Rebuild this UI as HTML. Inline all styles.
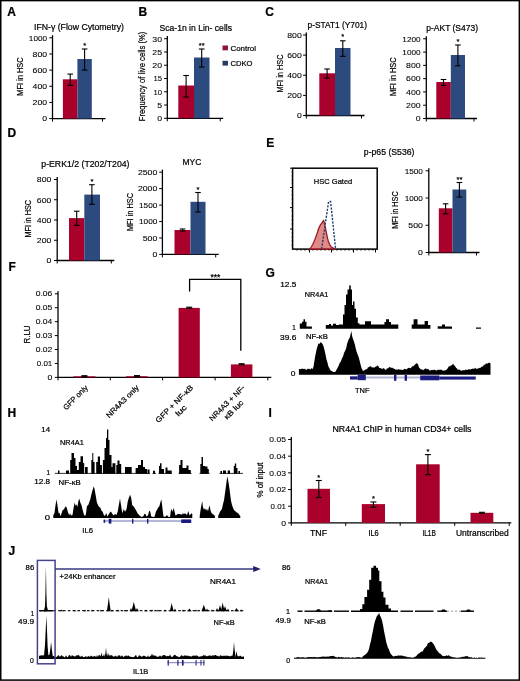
<!DOCTYPE html>
<html><head><meta charset="utf-8"><style>
html,body{margin:0;padding:0;background:#fff;}
svg{display:block;will-change:transform;}
text{font-family:"Liberation Sans", sans-serif;stroke:#000;stroke-width:0.22px;}
.t{stroke-width:0.08px;}
</style></head><body>
<svg width="520" height="681" viewBox="0 0 520 681" font-family='"Liberation Sans", sans-serif'>
<rect x="0" y="0" width="520" height="681" fill="#fff"/>
<text x="7.20" y="16.20" font-size="12" font-weight="bold">A</text>
<text x="138.60" y="15.60" font-size="12" font-weight="bold">B</text>
<text x="265.20" y="15.60" font-size="12" font-weight="bold">C</text>
<text x="7.40" y="137.20" font-size="12" font-weight="bold">D</text>
<text x="266.20" y="147.00" font-size="12" font-weight="bold">E</text>
<text x="8.60" y="270.60" font-size="12" font-weight="bold">F</text>
<text x="265.40" y="277.10" font-size="12" font-weight="bold">G</text>
<text x="7.40" y="417.00" font-size="12" font-weight="bold">H</text>
<text x="268.40" y="417.00" font-size="12" font-weight="bold">I</text>
<text x="8.40" y="554.60" font-size="12" font-weight="bold">J</text>
<text x="34.00" y="29.55" font-size="8.92" textLength="90.00" lengthAdjust="spacingAndGlyphs">IFN-γ (Flow Cytometry)</text>
<text font-size="9.74" text-anchor="middle" textLength="38.50" lengthAdjust="spacingAndGlyphs" transform="translate(22.60,76.55) rotate(-90)">MFI in HSC</text>
<line x1="52.50" y1="35.20" x2="52.50" y2="119.10" stroke="#000" stroke-width="1.3" />
<line x1="52.00" y1="118.60" x2="105.50" y2="118.60" stroke="#000" stroke-width="1.3" />
<line x1="49.30" y1="118.60" x2="52.50" y2="118.60" stroke="#000" stroke-width="1.0" />
<text x="47.10" y="121.35" font-size="7.54" class="t" text-anchor="end" textLength="4.85" lengthAdjust="spacingAndGlyphs">0</text>
<line x1="49.30" y1="102.44" x2="52.50" y2="102.44" stroke="#000" stroke-width="1.0" />
<text x="47.10" y="105.19" font-size="7.54" class="t" text-anchor="end" textLength="14.55" lengthAdjust="spacingAndGlyphs">200</text>
<line x1="49.30" y1="86.28" x2="52.50" y2="86.28" stroke="#000" stroke-width="1.0" />
<text x="47.10" y="89.03" font-size="7.54" class="t" text-anchor="end" textLength="14.55" lengthAdjust="spacingAndGlyphs">400</text>
<line x1="49.30" y1="70.12" x2="52.50" y2="70.12" stroke="#000" stroke-width="1.0" />
<text x="47.10" y="72.87" font-size="7.54" class="t" text-anchor="end" textLength="14.55" lengthAdjust="spacingAndGlyphs">600</text>
<line x1="49.30" y1="53.96" x2="52.50" y2="53.96" stroke="#000" stroke-width="1.0" />
<text x="47.10" y="56.71" font-size="7.54" class="t" text-anchor="end" textLength="14.55" lengthAdjust="spacingAndGlyphs">800</text>
<line x1="49.30" y1="37.80" x2="52.50" y2="37.80" stroke="#000" stroke-width="1.0" />
<text x="47.10" y="40.55" font-size="7.54" class="t" text-anchor="end" textLength="18.25" lengthAdjust="spacingAndGlyphs">1000</text>
<line x1="52.50" y1="118.60" x2="52.50" y2="121.60" stroke="#000" stroke-width="1.0" />
<line x1="102.50" y1="118.60" x2="102.50" y2="121.60" stroke="#000" stroke-width="1.0" />
<rect x="62.90" y="79.30" width="14.50" height="39.30" fill="#A9002C"/>
<rect x="77.40" y="59.00" width="14.40" height="59.60" fill="#2D4A7F"/>
<line x1="70.20" y1="74.10" x2="70.20" y2="85.40" stroke="#000" stroke-width="1.1" />
<line x1="67.40" y1="74.10" x2="73.00" y2="74.10" stroke="#000" stroke-width="1.1" />
<line x1="67.40" y1="85.40" x2="73.00" y2="85.40" stroke="#000" stroke-width="1.1" />
<line x1="84.60" y1="49.00" x2="84.60" y2="70.10" stroke="#000" stroke-width="1.1" />
<line x1="81.80" y1="49.00" x2="87.40" y2="49.00" stroke="#000" stroke-width="1.1" />
<line x1="81.80" y1="70.10" x2="87.40" y2="70.10" stroke="#000" stroke-width="1.1" />
<text x="84.60" y="47.90" font-size="7.5" text-anchor="middle">*</text>
<text x="159.50" y="30.75" font-size="8.92" textLength="72.50" lengthAdjust="spacingAndGlyphs">Sca-1n in Lin- cells</text>
<text font-size="9.6" text-anchor="middle" textLength="89.70" lengthAdjust="spacingAndGlyphs" transform="translate(145.30,76.45) rotate(-90)">Frequency of live cells (%)</text>
<line x1="167.30" y1="36.10" x2="167.30" y2="118.80" stroke="#000" stroke-width="1.3" />
<line x1="166.80" y1="118.30" x2="223.20" y2="118.30" stroke="#000" stroke-width="1.3" />
<line x1="164.10" y1="118.30" x2="167.30" y2="118.30" stroke="#000" stroke-width="1.0" />
<text x="162.00" y="121.20" font-size="7.96" class="t" text-anchor="end" textLength="4.85" lengthAdjust="spacingAndGlyphs">0</text>
<line x1="164.10" y1="105.03" x2="167.30" y2="105.03" stroke="#000" stroke-width="1.0" />
<text x="162.00" y="107.93" font-size="7.96" class="t" text-anchor="end" textLength="4.85" lengthAdjust="spacingAndGlyphs">5</text>
<line x1="164.10" y1="91.77" x2="167.30" y2="91.77" stroke="#000" stroke-width="1.0" />
<text x="162.00" y="94.67" font-size="7.96" class="t" text-anchor="end" textLength="8.55" lengthAdjust="spacingAndGlyphs">10</text>
<line x1="164.10" y1="78.50" x2="167.30" y2="78.50" stroke="#000" stroke-width="1.0" />
<text x="162.00" y="81.40" font-size="7.96" class="t" text-anchor="end" textLength="8.55" lengthAdjust="spacingAndGlyphs">15</text>
<line x1="164.10" y1="65.23" x2="167.30" y2="65.23" stroke="#000" stroke-width="1.0" />
<text x="162.00" y="68.13" font-size="7.96" class="t" text-anchor="end" textLength="9.70" lengthAdjust="spacingAndGlyphs">20</text>
<line x1="164.10" y1="51.97" x2="167.30" y2="51.97" stroke="#000" stroke-width="1.0" />
<text x="162.00" y="54.87" font-size="7.96" class="t" text-anchor="end" textLength="9.70" lengthAdjust="spacingAndGlyphs">25</text>
<line x1="164.10" y1="38.70" x2="167.30" y2="38.70" stroke="#000" stroke-width="1.0" />
<text x="162.00" y="41.60" font-size="7.96" class="t" text-anchor="end" textLength="9.70" lengthAdjust="spacingAndGlyphs">30</text>
<line x1="167.30" y1="118.30" x2="167.30" y2="121.30" stroke="#000" stroke-width="1.0" />
<line x1="220.20" y1="118.30" x2="220.20" y2="121.30" stroke="#000" stroke-width="1.0" />
<rect x="178.30" y="85.50" width="15.70" height="32.80" fill="#A9002C"/>
<rect x="194.00" y="57.50" width="15.50" height="60.80" fill="#2D4A7F"/>
<line x1="186.10" y1="75.50" x2="186.10" y2="97.00" stroke="#000" stroke-width="1.1" />
<line x1="183.30" y1="75.50" x2="188.90" y2="75.50" stroke="#000" stroke-width="1.1" />
<line x1="183.30" y1="97.00" x2="188.90" y2="97.00" stroke="#000" stroke-width="1.1" />
<line x1="201.70" y1="49.00" x2="201.70" y2="67.00" stroke="#000" stroke-width="1.1" />
<line x1="198.90" y1="49.00" x2="204.50" y2="49.00" stroke="#000" stroke-width="1.1" />
<line x1="198.90" y1="67.00" x2="204.50" y2="67.00" stroke="#000" stroke-width="1.1" />
<text x="201.70" y="47.70" font-size="7.5" text-anchor="middle">**</text>
<rect x="222.50" y="45.50" width="5.50" height="4.80" fill="#901332"/>
<text x="230.50" y="50.90" font-size="7.96" textLength="25.50" lengthAdjust="spacingAndGlyphs">Control</text>
<rect x="222.50" y="60.80" width="5.50" height="4.80" fill="#283C62"/>
<text x="230.50" y="66.10" font-size="7.96" textLength="22.00" lengthAdjust="spacingAndGlyphs">CDKO</text>
<text x="307.50" y="27.55" font-size="8.92" textLength="59.50" lengthAdjust="spacingAndGlyphs">p-STAT1 (Y701)</text>
<text font-size="9.74" text-anchor="middle" textLength="38.00" lengthAdjust="spacingAndGlyphs" transform="translate(283.10,73.50) rotate(-90)">MFI in HSC</text>
<line x1="306.30" y1="32.40" x2="306.30" y2="116.00" stroke="#000" stroke-width="1.3" />
<line x1="305.80" y1="115.50" x2="364.50" y2="115.50" stroke="#000" stroke-width="1.3" />
<line x1="303.10" y1="115.50" x2="306.30" y2="115.50" stroke="#000" stroke-width="1.0" />
<text x="301.80" y="118.25" font-size="7.54" class="t" text-anchor="end" textLength="4.85" lengthAdjust="spacingAndGlyphs">0</text>
<line x1="303.10" y1="95.38" x2="306.30" y2="95.38" stroke="#000" stroke-width="1.0" />
<text x="301.80" y="98.12" font-size="7.54" class="t" text-anchor="end" textLength="14.55" lengthAdjust="spacingAndGlyphs">200</text>
<line x1="303.10" y1="75.25" x2="306.30" y2="75.25" stroke="#000" stroke-width="1.0" />
<text x="301.80" y="78.00" font-size="7.54" class="t" text-anchor="end" textLength="14.55" lengthAdjust="spacingAndGlyphs">400</text>
<line x1="303.10" y1="55.12" x2="306.30" y2="55.12" stroke="#000" stroke-width="1.0" />
<text x="301.80" y="57.88" font-size="7.54" class="t" text-anchor="end" textLength="14.55" lengthAdjust="spacingAndGlyphs">600</text>
<line x1="303.10" y1="35.00" x2="306.30" y2="35.00" stroke="#000" stroke-width="1.0" />
<text x="301.80" y="37.75" font-size="7.54" class="t" text-anchor="end" textLength="14.55" lengthAdjust="spacingAndGlyphs">800</text>
<line x1="306.30" y1="115.50" x2="306.30" y2="118.50" stroke="#000" stroke-width="1.0" />
<line x1="361.50" y1="115.50" x2="361.50" y2="118.50" stroke="#000" stroke-width="1.0" />
<rect x="319.30" y="73.30" width="15.70" height="42.20" fill="#A9002C"/>
<rect x="335.00" y="48.00" width="15.50" height="67.50" fill="#2D4A7F"/>
<line x1="327.10" y1="69.00" x2="327.10" y2="78.00" stroke="#000" stroke-width="1.1" />
<line x1="324.30" y1="69.00" x2="329.90" y2="69.00" stroke="#000" stroke-width="1.1" />
<line x1="324.30" y1="78.00" x2="329.90" y2="78.00" stroke="#000" stroke-width="1.1" />
<line x1="342.80" y1="40.80" x2="342.80" y2="56.30" stroke="#000" stroke-width="1.1" />
<line x1="340.00" y1="40.80" x2="345.60" y2="40.80" stroke="#000" stroke-width="1.1" />
<line x1="340.00" y1="56.30" x2="345.60" y2="56.30" stroke="#000" stroke-width="1.1" />
<text x="342.80" y="39.20" font-size="7.5" text-anchor="middle">*</text>
<text x="426.30" y="30.75" font-size="8.92" textLength="51.70" lengthAdjust="spacingAndGlyphs">p-AKT (S473)</text>
<text font-size="9.74" text-anchor="middle" textLength="38.70" lengthAdjust="spacingAndGlyphs" transform="translate(396.15,76.65) rotate(-90)">MFI in HSC</text>
<line x1="426.30" y1="36.20" x2="426.30" y2="119.00" stroke="#000" stroke-width="1.3" />
<line x1="425.80" y1="118.50" x2="477.00" y2="118.50" stroke="#000" stroke-width="1.3" />
<line x1="423.10" y1="118.50" x2="426.30" y2="118.50" stroke="#000" stroke-width="1.0" />
<text x="420.60" y="121.20" font-size="7.41" class="t" text-anchor="end" textLength="4.85" lengthAdjust="spacingAndGlyphs">0</text>
<line x1="423.10" y1="105.22" x2="426.30" y2="105.22" stroke="#000" stroke-width="1.0" />
<text x="420.60" y="107.92" font-size="7.41" class="t" text-anchor="end" textLength="14.55" lengthAdjust="spacingAndGlyphs">200</text>
<line x1="423.10" y1="91.93" x2="426.30" y2="91.93" stroke="#000" stroke-width="1.0" />
<text x="420.60" y="94.63" font-size="7.41" class="t" text-anchor="end" textLength="14.55" lengthAdjust="spacingAndGlyphs">400</text>
<line x1="423.10" y1="78.65" x2="426.30" y2="78.65" stroke="#000" stroke-width="1.0" />
<text x="420.60" y="81.35" font-size="7.41" class="t" text-anchor="end" textLength="14.55" lengthAdjust="spacingAndGlyphs">600</text>
<line x1="423.10" y1="65.37" x2="426.30" y2="65.37" stroke="#000" stroke-width="1.0" />
<text x="420.60" y="68.07" font-size="7.41" class="t" text-anchor="end" textLength="14.55" lengthAdjust="spacingAndGlyphs">800</text>
<line x1="423.10" y1="52.08" x2="426.30" y2="52.08" stroke="#000" stroke-width="1.0" />
<text x="420.60" y="54.78" font-size="7.41" class="t" text-anchor="end" textLength="18.25" lengthAdjust="spacingAndGlyphs">1000</text>
<line x1="423.10" y1="38.80" x2="426.30" y2="38.80" stroke="#000" stroke-width="1.0" />
<text x="420.60" y="41.50" font-size="7.41" class="t" text-anchor="end" textLength="18.25" lengthAdjust="spacingAndGlyphs">1200</text>
<line x1="426.30" y1="118.50" x2="426.30" y2="121.50" stroke="#000" stroke-width="1.0" />
<line x1="474.00" y1="118.50" x2="474.00" y2="121.50" stroke="#000" stroke-width="1.0" />
<rect x="436.30" y="82.00" width="14.50" height="36.50" fill="#A9002C"/>
<rect x="450.80" y="55.00" width="14.20" height="63.50" fill="#2D4A7F"/>
<line x1="443.50" y1="79.50" x2="443.50" y2="85.50" stroke="#000" stroke-width="1.1" />
<line x1="440.70" y1="79.50" x2="446.30" y2="79.50" stroke="#000" stroke-width="1.1" />
<line x1="440.70" y1="85.50" x2="446.30" y2="85.50" stroke="#000" stroke-width="1.1" />
<line x1="457.90" y1="45.00" x2="457.90" y2="65.80" stroke="#000" stroke-width="1.1" />
<line x1="455.10" y1="45.00" x2="460.70" y2="45.00" stroke="#000" stroke-width="1.1" />
<line x1="455.10" y1="65.80" x2="460.70" y2="65.80" stroke="#000" stroke-width="1.1" />
<text x="457.90" y="44.20" font-size="7.5" text-anchor="middle">*</text>
<text x="41.30" y="167.05" font-size="8.92" textLength="88.20" lengthAdjust="spacingAndGlyphs">p-ERK1/2 (T202/T204)</text>
<text font-size="9.74" text-anchor="middle" textLength="37.50" lengthAdjust="spacingAndGlyphs" transform="translate(30.80,218.75) rotate(-90)">MFI in HSC</text>
<line x1="57.20" y1="176.90" x2="57.20" y2="261.00" stroke="#000" stroke-width="1.3" />
<line x1="56.70" y1="260.50" x2="114.30" y2="260.50" stroke="#000" stroke-width="1.3" />
<line x1="54.00" y1="260.50" x2="57.20" y2="260.50" stroke="#000" stroke-width="1.0" />
<text x="51.40" y="263.25" font-size="7.54" class="t" text-anchor="end" textLength="4.85" lengthAdjust="spacingAndGlyphs">0</text>
<line x1="54.00" y1="240.25" x2="57.20" y2="240.25" stroke="#000" stroke-width="1.0" />
<text x="51.40" y="243.00" font-size="7.54" class="t" text-anchor="end" textLength="14.55" lengthAdjust="spacingAndGlyphs">200</text>
<line x1="54.00" y1="220.00" x2="57.20" y2="220.00" stroke="#000" stroke-width="1.0" />
<text x="51.40" y="222.75" font-size="7.54" class="t" text-anchor="end" textLength="14.55" lengthAdjust="spacingAndGlyphs">400</text>
<line x1="54.00" y1="199.75" x2="57.20" y2="199.75" stroke="#000" stroke-width="1.0" />
<text x="51.40" y="202.50" font-size="7.54" class="t" text-anchor="end" textLength="14.55" lengthAdjust="spacingAndGlyphs">600</text>
<line x1="54.00" y1="179.50" x2="57.20" y2="179.50" stroke="#000" stroke-width="1.0" />
<text x="51.40" y="182.25" font-size="7.54" class="t" text-anchor="end" textLength="14.55" lengthAdjust="spacingAndGlyphs">800</text>
<line x1="57.20" y1="260.50" x2="57.20" y2="263.50" stroke="#000" stroke-width="1.0" />
<line x1="111.30" y1="260.50" x2="111.30" y2="263.50" stroke="#000" stroke-width="1.0" />
<rect x="69.00" y="218.10" width="15.30" height="42.40" fill="#A9002C"/>
<rect x="84.30" y="194.60" width="15.70" height="65.90" fill="#2D4A7F"/>
<line x1="76.70" y1="211.20" x2="76.70" y2="225.40" stroke="#000" stroke-width="1.1" />
<line x1="73.90" y1="211.20" x2="79.50" y2="211.20" stroke="#000" stroke-width="1.1" />
<line x1="73.90" y1="225.40" x2="79.50" y2="225.40" stroke="#000" stroke-width="1.1" />
<line x1="91.90" y1="184.70" x2="91.90" y2="204.30" stroke="#000" stroke-width="1.1" />
<line x1="89.10" y1="184.70" x2="94.70" y2="184.70" stroke="#000" stroke-width="1.1" />
<line x1="89.10" y1="204.30" x2="94.70" y2="204.30" stroke="#000" stroke-width="1.1" />
<text x="91.90" y="183.60" font-size="7.5" text-anchor="middle">*</text>
<text x="182.50" y="165.25" font-size="8.92" textLength="18.80" lengthAdjust="spacingAndGlyphs">MYC</text>
<text font-size="9.74" text-anchor="middle" textLength="38.20" lengthAdjust="spacingAndGlyphs" transform="translate(133.30,212.00) rotate(-90)">MFI in HSC</text>
<line x1="162.40" y1="169.60" x2="162.40" y2="254.90" stroke="#000" stroke-width="1.3" />
<line x1="161.90" y1="254.40" x2="218.70" y2="254.40" stroke="#000" stroke-width="1.3" />
<line x1="159.20" y1="254.40" x2="162.40" y2="254.40" stroke="#000" stroke-width="1.0" />
<text x="157.30" y="257.15" font-size="7.54" class="t" text-anchor="end" textLength="4.85" lengthAdjust="spacingAndGlyphs">0</text>
<line x1="159.20" y1="237.96" x2="162.40" y2="237.96" stroke="#000" stroke-width="1.0" />
<text x="157.30" y="240.71" font-size="7.54" class="t" text-anchor="end" textLength="14.55" lengthAdjust="spacingAndGlyphs">500</text>
<line x1="159.20" y1="221.52" x2="162.40" y2="221.52" stroke="#000" stroke-width="1.0" />
<text x="157.30" y="224.27" font-size="7.54" class="t" text-anchor="end" textLength="18.25" lengthAdjust="spacingAndGlyphs">1000</text>
<line x1="159.20" y1="205.08" x2="162.40" y2="205.08" stroke="#000" stroke-width="1.0" />
<text x="157.30" y="207.83" font-size="7.54" class="t" text-anchor="end" textLength="18.25" lengthAdjust="spacingAndGlyphs">1500</text>
<line x1="159.20" y1="188.64" x2="162.40" y2="188.64" stroke="#000" stroke-width="1.0" />
<text x="157.30" y="191.39" font-size="7.54" class="t" text-anchor="end" textLength="19.40" lengthAdjust="spacingAndGlyphs">2000</text>
<line x1="159.20" y1="172.20" x2="162.40" y2="172.20" stroke="#000" stroke-width="1.0" />
<text x="157.30" y="174.95" font-size="7.54" class="t" text-anchor="end" textLength="19.40" lengthAdjust="spacingAndGlyphs">2500</text>
<line x1="162.40" y1="254.40" x2="162.40" y2="257.40" stroke="#000" stroke-width="1.0" />
<line x1="215.70" y1="254.40" x2="215.70" y2="257.40" stroke="#000" stroke-width="1.0" />
<rect x="174.50" y="230.00" width="16.00" height="24.40" fill="#A9002C"/>
<rect x="190.50" y="201.80" width="15.00" height="52.60" fill="#2D4A7F"/>
<line x1="182.50" y1="229.00" x2="182.50" y2="231.00" stroke="#000" stroke-width="1.1" />
<line x1="179.70" y1="229.00" x2="185.30" y2="229.00" stroke="#000" stroke-width="1.1" />
<line x1="179.70" y1="231.00" x2="185.30" y2="231.00" stroke="#000" stroke-width="1.1" />
<line x1="198.00" y1="192.50" x2="198.00" y2="212.00" stroke="#000" stroke-width="1.1" />
<line x1="195.20" y1="192.50" x2="200.80" y2="192.50" stroke="#000" stroke-width="1.1" />
<line x1="195.20" y1="212.00" x2="200.80" y2="212.00" stroke="#000" stroke-width="1.1" />
<text x="198.00" y="192.00" font-size="7.5" text-anchor="middle">*</text>
<text x="363.80" y="155.05" font-size="8.92" textLength="50.70" lengthAdjust="spacingAndGlyphs">p-p65 (S536)</text>
<rect x="292.6" y="168.2" width="84.6" height="80.9" fill="none" stroke="#000" stroke-width="1.5"/>
<line x1="290.00" y1="168.20" x2="292.60" y2="168.20" stroke="#000" stroke-width="1.0" />
<line x1="290.00" y1="187.50" x2="292.60" y2="187.50" stroke="#000" stroke-width="1.0" />
<line x1="290.00" y1="207.60" x2="292.60" y2="207.60" stroke="#000" stroke-width="1.0" />
<line x1="290.00" y1="229.00" x2="292.60" y2="229.00" stroke="#000" stroke-width="1.0" />
<line x1="291.50" y1="172.00" x2="292.60" y2="172.00" stroke="#000" stroke-width="0.7" />
<line x1="291.50" y1="176.00" x2="292.60" y2="176.00" stroke="#000" stroke-width="0.7" />
<line x1="291.50" y1="180.00" x2="292.60" y2="180.00" stroke="#000" stroke-width="0.7" />
<line x1="291.50" y1="183.00" x2="292.60" y2="183.00" stroke="#000" stroke-width="0.7" />
<line x1="291.50" y1="191.00" x2="292.60" y2="191.00" stroke="#000" stroke-width="0.7" />
<line x1="291.50" y1="195.00" x2="292.60" y2="195.00" stroke="#000" stroke-width="0.7" />
<line x1="291.50" y1="199.00" x2="292.60" y2="199.00" stroke="#000" stroke-width="0.7" />
<line x1="291.50" y1="203.00" x2="292.60" y2="203.00" stroke="#000" stroke-width="0.7" />
<line x1="291.50" y1="211.00" x2="292.60" y2="211.00" stroke="#000" stroke-width="0.7" />
<line x1="291.50" y1="216.00" x2="292.60" y2="216.00" stroke="#000" stroke-width="0.7" />
<line x1="291.50" y1="220.00" x2="292.60" y2="220.00" stroke="#000" stroke-width="0.7" />
<line x1="291.50" y1="224.00" x2="292.60" y2="224.00" stroke="#000" stroke-width="0.7" />
<line x1="291.50" y1="233.00" x2="292.60" y2="233.00" stroke="#000" stroke-width="0.7" />
<line x1="291.50" y1="237.00" x2="292.60" y2="237.00" stroke="#000" stroke-width="0.7" />
<line x1="291.50" y1="241.00" x2="292.60" y2="241.00" stroke="#000" stroke-width="0.7" />
<line x1="291.50" y1="245.00" x2="292.60" y2="245.00" stroke="#000" stroke-width="0.7" />
<line x1="297.00" y1="249.10" x2="297.00" y2="250.80" stroke="#000" stroke-width="0.7" />
<line x1="301.00" y1="249.10" x2="301.00" y2="250.80" stroke="#000" stroke-width="0.7" />
<line x1="305.00" y1="249.10" x2="305.00" y2="250.80" stroke="#000" stroke-width="0.7" />
<line x1="309.00" y1="249.10" x2="309.00" y2="250.80" stroke="#000" stroke-width="0.7" />
<line x1="313.00" y1="249.10" x2="313.00" y2="250.80" stroke="#000" stroke-width="0.7" />
<line x1="317.00" y1="249.10" x2="317.00" y2="250.80" stroke="#000" stroke-width="0.7" />
<line x1="321.00" y1="249.10" x2="321.00" y2="250.80" stroke="#000" stroke-width="0.7" />
<line x1="325.00" y1="249.10" x2="325.00" y2="250.80" stroke="#000" stroke-width="0.7" />
<line x1="329.00" y1="249.10" x2="329.00" y2="250.80" stroke="#000" stroke-width="0.7" />
<line x1="333.00" y1="249.10" x2="333.00" y2="250.80" stroke="#000" stroke-width="0.7" />
<line x1="337.00" y1="249.10" x2="337.00" y2="250.80" stroke="#000" stroke-width="0.7" />
<line x1="341.00" y1="249.10" x2="341.00" y2="250.80" stroke="#000" stroke-width="0.7" />
<line x1="345.00" y1="249.10" x2="345.00" y2="250.80" stroke="#000" stroke-width="0.7" />
<line x1="349.00" y1="249.10" x2="349.00" y2="250.80" stroke="#000" stroke-width="0.7" />
<line x1="353.00" y1="249.10" x2="353.00" y2="250.80" stroke="#000" stroke-width="0.7" />
<line x1="357.00" y1="249.10" x2="357.00" y2="250.80" stroke="#000" stroke-width="0.7" />
<line x1="361.00" y1="249.10" x2="361.00" y2="250.80" stroke="#000" stroke-width="0.7" />
<line x1="365.00" y1="249.10" x2="365.00" y2="250.80" stroke="#000" stroke-width="0.7" />
<line x1="369.00" y1="249.10" x2="369.00" y2="250.80" stroke="#000" stroke-width="0.7" />
<line x1="373.00" y1="249.10" x2="373.00" y2="250.80" stroke="#000" stroke-width="0.7" />
<line x1="309.50" y1="249.10" x2="309.50" y2="252.50" stroke="#000" stroke-width="1.0" />
<line x1="331.50" y1="249.10" x2="331.50" y2="252.50" stroke="#000" stroke-width="1.0" />
<line x1="353.50" y1="249.10" x2="353.50" y2="252.50" stroke="#000" stroke-width="1.0" />
<line x1="375.50" y1="249.10" x2="375.50" y2="252.50" stroke="#000" stroke-width="1.0" />
<text x="313.80" y="184.05" font-size="7.82" textLength="38.50" lengthAdjust="spacingAndGlyphs">HSC Gated</text>
<path d="M309.7,249 C313,246 315.5,238 317.6,232 C319,227 320,225 321.5,223.5 C322.5,222.5 323,221 323.6,220.5 C324.3,222 324.8,225 325.5,228.5 C326.5,233 327.3,238 328.2,240.8 C329.5,244.5 330.5,246.5 331.7,247.4 C333,248.3 334,248.6 335.2,249 Z" fill="#E08987" stroke="#9A1A26" stroke-width="1.3"/>
<path d="M321.6,249 L328.6,201.5 L330.6,201.5 L335.6,249" fill="none" stroke="#223F6E" stroke-width="1.4" stroke-dasharray="2.2 1.3"/>
<text font-size="9.74" text-anchor="middle" textLength="37.50" lengthAdjust="spacingAndGlyphs" transform="translate(398.30,210.05) rotate(-90)">MFI in HSC</text>
<line x1="428.80" y1="168.20" x2="428.80" y2="253.00" stroke="#000" stroke-width="1.3" />
<line x1="428.30" y1="252.50" x2="479.50" y2="252.50" stroke="#000" stroke-width="1.3" />
<line x1="425.60" y1="252.50" x2="428.80" y2="252.50" stroke="#000" stroke-width="1.0" />
<text x="422.90" y="255.25" font-size="7.54" class="t" text-anchor="end" textLength="4.85" lengthAdjust="spacingAndGlyphs">0</text>
<line x1="425.60" y1="225.27" x2="428.80" y2="225.27" stroke="#000" stroke-width="1.0" />
<text x="422.90" y="228.02" font-size="7.54" class="t" text-anchor="end" textLength="14.55" lengthAdjust="spacingAndGlyphs">500</text>
<line x1="425.60" y1="198.03" x2="428.80" y2="198.03" stroke="#000" stroke-width="1.0" />
<text x="422.90" y="200.78" font-size="7.54" class="t" text-anchor="end" textLength="18.25" lengthAdjust="spacingAndGlyphs">1000</text>
<line x1="425.60" y1="170.80" x2="428.80" y2="170.80" stroke="#000" stroke-width="1.0" />
<text x="422.90" y="173.55" font-size="7.54" class="t" text-anchor="end" textLength="18.25" lengthAdjust="spacingAndGlyphs">1500</text>
<line x1="428.80" y1="252.50" x2="428.80" y2="255.50" stroke="#000" stroke-width="1.0" />
<line x1="476.50" y1="252.50" x2="476.50" y2="255.50" stroke="#000" stroke-width="1.0" />
<rect x="438.80" y="208.30" width="13.70" height="44.20" fill="#A9002C"/>
<rect x="452.50" y="189.50" width="13.80" height="63.00" fill="#2D4A7F"/>
<line x1="445.60" y1="203.80" x2="445.60" y2="213.80" stroke="#000" stroke-width="1.1" />
<line x1="442.80" y1="203.80" x2="448.40" y2="203.80" stroke="#000" stroke-width="1.1" />
<line x1="442.80" y1="213.80" x2="448.40" y2="213.80" stroke="#000" stroke-width="1.1" />
<line x1="459.40" y1="182.50" x2="459.40" y2="197.00" stroke="#000" stroke-width="1.1" />
<line x1="456.60" y1="182.50" x2="462.20" y2="182.50" stroke="#000" stroke-width="1.1" />
<line x1="456.60" y1="197.00" x2="462.20" y2="197.00" stroke="#000" stroke-width="1.1" />
<text x="459.40" y="181.50" font-size="7.5" text-anchor="middle">**</text>
<text font-size="9.33" text-anchor="middle" textLength="18.00" lengthAdjust="spacingAndGlyphs" transform="translate(30.40,334.50) rotate(-90)">R.LU</text>
<line x1="58.00" y1="291.20" x2="58.00" y2="377.90" stroke="#000" stroke-width="1.3" />
<line x1="57.50" y1="377.40" x2="271.30" y2="377.40" stroke="#000" stroke-width="1.3" />
<line x1="54.80" y1="377.40" x2="58.00" y2="377.40" stroke="#000" stroke-width="1.0" />
<text x="52.30" y="380.00" font-size="7.13" class="t" text-anchor="end" textLength="4.85" lengthAdjust="spacingAndGlyphs">0</text>
<line x1="54.80" y1="363.47" x2="58.00" y2="363.47" stroke="#000" stroke-width="1.0" />
<text x="52.30" y="366.07" font-size="7.13" class="t" text-anchor="end" textLength="15.50" lengthAdjust="spacingAndGlyphs">0.01</text>
<line x1="54.80" y1="349.53" x2="58.00" y2="349.53" stroke="#000" stroke-width="1.0" />
<text x="52.30" y="352.13" font-size="7.13" class="t" text-anchor="end" textLength="16.65" lengthAdjust="spacingAndGlyphs">0.02</text>
<line x1="54.80" y1="335.60" x2="58.00" y2="335.60" stroke="#000" stroke-width="1.0" />
<text x="52.30" y="338.20" font-size="7.13" class="t" text-anchor="end" textLength="16.65" lengthAdjust="spacingAndGlyphs">0.03</text>
<line x1="54.80" y1="321.67" x2="58.00" y2="321.67" stroke="#000" stroke-width="1.0" />
<text x="52.30" y="324.27" font-size="7.13" class="t" text-anchor="end" textLength="16.65" lengthAdjust="spacingAndGlyphs">0.04</text>
<line x1="54.80" y1="307.73" x2="58.00" y2="307.73" stroke="#000" stroke-width="1.0" />
<text x="52.30" y="310.33" font-size="7.13" class="t" text-anchor="end" textLength="16.65" lengthAdjust="spacingAndGlyphs">0.05</text>
<line x1="54.80" y1="293.80" x2="58.00" y2="293.80" stroke="#000" stroke-width="1.0" />
<text x="52.30" y="296.40" font-size="7.13" class="t" text-anchor="end" textLength="16.65" lengthAdjust="spacingAndGlyphs">0.06</text>
<line x1="58.00" y1="377.40" x2="58.00" y2="380.40" stroke="#000" stroke-width="1.0" />
<line x1="110.30" y1="377.40" x2="110.30" y2="380.40" stroke="#000" stroke-width="1.0" />
<line x1="162.60" y1="377.40" x2="162.60" y2="380.40" stroke="#000" stroke-width="1.0" />
<line x1="215.10" y1="377.40" x2="215.10" y2="380.40" stroke="#000" stroke-width="1.0" />
<line x1="267.80" y1="377.40" x2="267.80" y2="380.40" stroke="#000" stroke-width="1.0" />
<rect x="73.30" y="376.30" width="22.20" height="1.10" fill="#A9002C"/>
<rect x="126.20" y="376.20" width="21.50" height="1.20" fill="#A9002C"/>
<rect x="178.60" y="307.90" width="21.20" height="69.50" fill="#A9002C"/>
<rect x="230.90" y="364.40" width="21.50" height="13.00" fill="#A9002C"/>
<line x1="84.40" y1="375.70" x2="84.40" y2="376.70" stroke="#000" stroke-width="1.1" />
<line x1="81.40" y1="375.70" x2="87.40" y2="375.70" stroke="#000" stroke-width="1.1" />
<line x1="81.40" y1="376.70" x2="87.40" y2="376.70" stroke="#000" stroke-width="1.1" />
<line x1="137.00" y1="375.60" x2="137.00" y2="376.60" stroke="#000" stroke-width="1.1" />
<line x1="134.00" y1="375.60" x2="140.00" y2="375.60" stroke="#000" stroke-width="1.1" />
<line x1="134.00" y1="376.60" x2="140.00" y2="376.60" stroke="#000" stroke-width="1.1" />
<line x1="189.20" y1="307.20" x2="189.20" y2="308.20" stroke="#000" stroke-width="1.1" />
<line x1="186.20" y1="307.20" x2="192.20" y2="307.20" stroke="#000" stroke-width="1.1" />
<line x1="186.20" y1="308.20" x2="192.20" y2="308.20" stroke="#000" stroke-width="1.1" />
<line x1="241.60" y1="363.70" x2="241.60" y2="364.80" stroke="#000" stroke-width="1.1" />
<line x1="238.60" y1="363.70" x2="244.60" y2="363.70" stroke="#000" stroke-width="1.1" />
<line x1="238.60" y1="364.80" x2="244.60" y2="364.80" stroke="#000" stroke-width="1.1" />
<path d="M189.6,291.4 V279.4 H240.8 V350.7" fill="none" stroke="#000" stroke-width="1.3"/>
<text x="215.40" y="279.60" font-size="8.5" text-anchor="middle">***</text>
<g transform="translate(88.40,388.20) rotate(-45)"><text x="0" y="0" font-size="7.6" text-anchor="end" textLength="31.50" lengthAdjust="spacingAndGlyphs">GFP only</text></g>
<g transform="translate(139.40,388.20) rotate(-45)"><text x="0" y="0" font-size="7.6" text-anchor="end" textLength="42.80" lengthAdjust="spacingAndGlyphs">NR4A3 only</text></g>
<g transform="translate(193.60,388.20) rotate(-45)"><text x="0" y="0" font-size="7.6" text-anchor="end" textLength="49.50" lengthAdjust="spacingAndGlyphs">GFP + NF-κB</text><text x="-24.75" y="9.50" font-size="7.6" text-anchor="middle" textLength="12.50" lengthAdjust="spacingAndGlyphs">luc</text></g>
<g transform="translate(245.40,388.20) rotate(-45)"><text x="0" y="0" font-size="7.6" text-anchor="end" textLength="47.00" lengthAdjust="spacingAndGlyphs">NR4A3 + NF-</text><text x="-23.50" y="9.50" font-size="7.6" text-anchor="middle" textLength="24.00" lengthAdjust="spacingAndGlyphs">κB luc</text></g>
<text x="296.30" y="287.05" font-size="7.54" text-anchor="end" textLength="16.10" lengthAdjust="spacingAndGlyphs">12.5</text>
<text x="304.80" y="297.45" font-size="7.27" textLength="23.50" lengthAdjust="spacingAndGlyphs">NR4A1</text>
<text x="295.80" y="329.95" font-size="7.27" text-anchor="end" textLength="3.50" lengthAdjust="spacingAndGlyphs">1</text>
<text x="296.30" y="339.60" font-size="7.68" text-anchor="end" textLength="16.30" lengthAdjust="spacingAndGlyphs">39.6</text>
<text x="305.90" y="338.80" font-size="7.41" textLength="21.90" lengthAdjust="spacingAndGlyphs">NF-κB</text>
<text x="295.50" y="376.10" font-size="7.41" text-anchor="end" textLength="4.70" lengthAdjust="spacingAndGlyphs">0</text>
<path d="M299.80,328.70H302.00V323.60H299.80ZM302.00,328.70H303.50V321.80H302.00ZM303.50,328.70H305.00V319.30H303.50ZM305.00,328.70H306.50V321.80H305.00ZM306.50,328.70H311.90V326.40H306.50ZM325.80,328.70H329.00V325.00H325.80ZM329.00,328.70H331.00V324.00H329.00ZM331.00,328.70H333.00V325.50H331.00ZM333.00,328.70H336.00V323.80H333.00ZM336.00,328.70H339.00V325.00H336.00ZM339.00,328.70H343.00V324.50H339.00ZM343.00,328.70H344.50V314.60H343.00ZM344.50,328.70H346.00V305.00H344.50ZM346.00,328.70H347.50V294.40H346.00ZM347.50,328.70H349.20V289.60H347.50ZM349.20,328.70H350.80V285.40H349.20ZM350.80,328.70H352.00V289.60H350.80ZM352.00,328.70H353.00V305.00H352.00ZM353.00,328.70H354.50V301.50H353.00ZM354.50,328.70H356.00V308.80H354.50ZM356.00,328.70H357.80V317.50H356.00ZM357.80,328.70H359.40V323.30H357.80ZM359.40,328.70H365.00V324.50H359.40ZM365.00,328.70H371.00V321.30H365.00ZM371.00,328.70H384.40V324.60H371.00ZM384.40,328.70H386.00V322.00H384.40ZM386.00,328.70H389.00V319.30H386.00ZM389.00,328.70H391.00V322.00H389.00ZM391.00,328.70H398.30V324.60H391.00ZM411.70,328.70H413.60V324.60H411.70ZM413.60,328.70H417.50V319.30H413.60ZM417.50,328.70H424.60V324.60H417.50ZM424.60,328.70H428.00V321.00H424.60ZM428.00,328.70H430.40V325.00H428.00ZM437.70,328.70H442.00V326.30H437.70ZM442.00,328.70H445.00V324.60H442.00ZM445.00,328.70H452.00V326.50H445.00ZM476.00,328.70H481.00V327.60H476.00Z" fill="#000"/>
<path d="M298.90,374.80 L298.90,368.93 L299.93,368.92 L300.97,369.27 L302.00,368.45 L302.80,368.71 L303.60,369.02 L304.40,368.66 L305.20,369.32 L306.00,369.68 L306.80,369.81 L307.60,368.74 L308.40,368.93 L309.20,368.53 L310.00,369.44 L310.83,369.11 L311.67,368.01 L312.50,369.19 L313.50,366.72 L315.00,357.29 L316.50,349.74 L317.50,346.26 L318.50,343.42 L319.60,343.81 L320.70,342.01 L321.60,343.06 L322.50,343.93 L323.50,346.24 L324.50,349.92 L325.50,354.38 L326.50,359.62 L327.50,362.78 L328.50,366.71 L329.33,368.00 L330.17,369.72 L331.00,370.95 L332.00,370.97 L333.00,372.12 L333.83,372.12 L334.67,371.93 L335.50,371.76 L336.50,369.75 L337.50,368.11 L338.60,365.82 L339.70,363.09 L340.85,361.61 L342.00,358.32 L343.00,356.56 L344.00,353.07 L345.50,349.97 L346.30,347.65 L347.10,343.69 L348.50,339.83 L349.90,337.29 L351.30,330.92 L352.40,337.16 L353.50,340.36 L355.00,345.07 L355.80,348.87 L356.60,351.77 L358.20,356.06 L359.00,358.35 L359.80,361.41 L361.40,367.70 L362.20,369.61 L363.00,371.02 L364.00,370.61 L365.00,369.84 L366.00,369.20 L367.00,369.22 L368.00,367.33 L369.00,367.14 L370.00,366.22 L371.00,366.33 L372.00,367.65 L373.00,367.00 L374.00,368.01 L375.00,366.73 L376.00,366.68 L377.00,365.86 L378.00,365.44 L379.00,367.51 L380.00,368.25 L381.00,368.02 L382.00,369.35 L383.00,368.14 L384.00,368.15 L385.00,369.55 L386.00,369.99 L387.00,368.23 L388.00,368.52 L389.00,367.13 L390.00,366.94 L391.00,367.95 L392.00,367.55 L393.00,368.26 L394.00,368.71 L395.00,368.99 L396.00,369.91 L396.80,369.35 L397.60,369.74 L398.40,369.32 L399.20,369.34 L400.00,369.94 L401.00,369.44 L402.00,369.74 L403.00,370.30 L404.00,369.03 L405.00,368.65 L406.00,369.38 L407.00,369.09 L408.00,368.11 L409.00,367.85 L410.00,368.15 L411.00,367.96 L412.00,366.34 L413.00,366.60 L414.00,365.61 L415.10,364.42 L416.20,363.37 L417.10,363.61 L418.00,364.26 L419.00,367.60 L420.00,368.43 L421.00,369.42 L422.00,369.13 L423.00,370.24 L424.00,369.60 L425.00,368.84 L426.00,368.34 L426.80,369.41 L427.60,368.80 L428.40,369.33 L429.20,370.08 L430.00,370.77 L431.00,370.29 L432.00,369.67 L433.00,370.37 L434.00,369.74 L435.00,369.83 L436.00,370.50 L436.80,370.53 L437.60,369.82 L438.40,369.77 L439.20,369.82 L440.00,369.90 L440.80,369.40 L441.60,369.81 L442.40,370.62 L443.20,370.84 L444.00,370.51 L445.00,370.39 L446.00,370.08 L447.00,369.31 L448.00,367.63 L449.00,366.07 L450.00,366.54 L451.00,365.32 L452.00,365.35 L453.00,363.42 L454.00,365.32 L455.00,365.97 L456.00,367.74 L457.00,368.54 L458.00,369.99 L459.00,369.22 L460.00,370.36 L460.80,370.52 L461.60,370.64 L462.40,370.32 L463.20,370.18 L464.00,370.20 L464.80,370.27 L465.60,369.40 L466.40,369.76 L467.20,369.95 L468.00,369.82 L468.80,369.08 L469.60,369.51 L470.40,369.51 L471.20,369.00 L472.00,368.98 L472.80,368.53 L473.60,368.72 L474.40,368.66 L475.20,367.80 L476.00,368.50 L476.80,368.91 L477.60,368.65 L478.40,368.33 L479.20,367.74 L480.00,368.15 L481.00,367.32 L482.00,366.51 L483.00,366.53 L484.00,364.59 L485.00,364.90 L486.00,363.23 L487.00,363.67 L488.00,363.22 L489.00,362.55 L490.50,363.50 L490.50,374.80 Z" fill="#000"/>
<line x1="350.00" y1="377.60" x2="475.70" y2="377.60" stroke="#B4B4D4" stroke-width="2.0" />
<rect x="350.00" y="376.40" width="7.70" height="3.20" fill="#1C1C80"/>
<rect x="357.70" y="374.80" width="8.10" height="5.40" fill="#1C1C80"/>
<rect x="394.00" y="374.80" width="2.40" height="6.00" fill="#1C1C80"/>
<rect x="404.60" y="374.80" width="2.40" height="6.00" fill="#1C1C80"/>
<rect x="420.20" y="375.50" width="19.20" height="4.80" fill="#1C1C80"/>
<rect x="439.40" y="376.60" width="36.30" height="3.00" fill="#1C1C80"/>
<text x="355.00" y="392.90" font-size="7.96" textLength="14.50" lengthAdjust="spacingAndGlyphs">TNF</text>
<text x="50.00" y="431.50" font-size="7.41" text-anchor="end" textLength="8.70" lengthAdjust="spacingAndGlyphs">14</text>
<text x="60.00" y="445.20" font-size="7.41" textLength="23.80" lengthAdjust="spacingAndGlyphs">NR4A1</text>
<text x="50.00" y="475.00" font-size="7.41" text-anchor="end" textLength="3.50" lengthAdjust="spacingAndGlyphs">1</text>
<text x="50.10" y="483.70" font-size="7.41" text-anchor="end" textLength="15.90" lengthAdjust="spacingAndGlyphs">12.8</text>
<text x="58.60" y="485.10" font-size="7.41" textLength="22.20" lengthAdjust="spacingAndGlyphs">NF-κB</text>
<text x="50.10" y="520.00" font-size="7.41" text-anchor="end" textLength="5.30" lengthAdjust="spacingAndGlyphs">0</text>
<line x1="54.80" y1="473.40" x2="150.00" y2="473.40" stroke="#000" stroke-width="0.8" />
<line x1="152.50" y1="473.40" x2="156.00" y2="473.40" stroke="#000" stroke-width="0.8" />
<line x1="158.50" y1="473.40" x2="172.00" y2="473.40" stroke="#000" stroke-width="0.8" />
<line x1="178.50" y1="473.40" x2="191.50" y2="473.40" stroke="#000" stroke-width="0.8" />
<line x1="199.50" y1="473.40" x2="209.50" y2="473.40" stroke="#000" stroke-width="0.8" />
<line x1="219.50" y1="473.40" x2="243.00" y2="473.40" stroke="#000" stroke-width="0.8" />
<path d="M58.00,473.80H59.50V470.40H58.00ZM66.00,473.80H69.00V470.50H66.00ZM70.20,473.80H71.50V460.00H70.20ZM71.50,473.80H74.00V453.00H71.50ZM74.00,473.80H75.50V458.00H74.00ZM75.50,473.80H77.00V466.00H75.50ZM77.00,473.80H78.80V470.00H77.00ZM78.80,473.80H80.50V462.00H78.80ZM80.50,473.80H83.00V456.20H80.50ZM83.00,473.80H84.20V463.00H83.00ZM85.00,473.80H87.70V467.10H85.00ZM91.30,473.80H92.30V460.00H91.30ZM92.30,473.80H93.30V453.00H92.30ZM93.30,473.80H94.60V462.00H93.30ZM96.20,473.80H97.80V462.00H96.20ZM97.80,473.80H100.00V456.50H97.80ZM100.00,473.80H101.90V465.00H100.00ZM102.90,473.80H104.50V460.00H102.90ZM104.50,473.80H106.00V448.00H104.50ZM106.00,473.80H107.00V438.00H106.00ZM107.00,473.80H108.30V429.60H107.00ZM108.30,473.80H109.50V440.00H108.30ZM109.50,473.80H111.50V455.00H109.50ZM111.50,473.80H112.50V467.00H111.50ZM112.50,473.80H115.40V463.30H112.50ZM116.30,473.80H117.50V465.00H116.30ZM117.50,473.80H119.50V460.40H117.50ZM119.50,473.80H121.20V464.00H119.50ZM125.00,473.80H131.70V467.10H125.00ZM135.60,473.80H138.00V468.00H135.60ZM138.00,473.80H140.00V465.00H138.00ZM140.00,473.80H141.00V465.00H140.00ZM141.00,473.80H143.00V460.10H141.00ZM143.00,473.80H145.00V467.00H143.00ZM145.00,473.80H147.00V469.00H145.00ZM147.50,473.80H149.50V469.60H147.50ZM153.00,473.80H155.00V470.70H153.00ZM159.00,473.80H160.00V466.00H159.00ZM160.00,473.80H161.50V463.30H160.00ZM161.50,473.80H164.00V469.00H161.50ZM165.50,473.80H167.50V467.50H165.50ZM167.50,473.80H171.70V470.50H167.50ZM179.10,473.80H180.50V465.00H179.10ZM180.50,473.80H182.50V460.10H180.50ZM182.50,473.80H186.50V468.00H182.50ZM186.50,473.80H188.50V465.40H186.50ZM188.50,473.80H190.80V470.00H188.50ZM200.30,473.80H201.50V464.00H200.30ZM201.50,473.80H203.00V456.90H201.50ZM203.00,473.80H205.00V466.00H203.00ZM205.00,473.80H207.50V466.40H205.00ZM207.50,473.80H208.80V469.00H207.50ZM220.40,473.80H222.00V471.00H220.40ZM223.00,473.80H226.00V470.40H223.00ZM227.70,473.80H230.00V470.40H227.70ZM233.80,473.80H234.80V466.00H233.80ZM234.80,473.80H236.20V463.50H234.80ZM236.20,473.80H237.50V468.00H236.20ZM238.50,473.80H240.00V471.00H238.50Z" fill="#000"/>
<path d="M53.30,518.00 L53.30,515.29 L54.50,513.00 L55.50,505.23 L56.50,499.46 L57.50,505.51 L58.50,513.04 L59.50,512.68 L60.50,516.24 L61.50,513.54 L62.60,510.22 L64.00,509.26 L65.40,506.52 L66.60,507.29 L68.00,512.17 L69.20,515.16 L70.00,513.27 L71.00,515.59 L72.50,514.90 L73.50,508.58 L74.60,502.40 L75.40,505.77 L76.20,504.36 L77.50,506.66 L78.30,501.60 L79.20,498.38 L80.30,502.49 L81.50,505.29 L82.60,509.64 L83.80,514.13 L85.00,516.13 L86.00,513.66 L86.90,506.25 L88.50,504.50 L89.40,501.82 L90.30,499.36 L91.30,494.79 L92.30,491.12 L93.80,486.18 L94.60,489.13 L95.40,493.84 L96.90,502.55 L98.00,504.90 L99.20,506.89 L100.30,507.62 L101.50,510.67 L102.70,511.75 L103.80,514.91 L105.00,516.10 L106.20,512.69 L107.30,516.39 L108.50,514.83 L109.80,512.41 L110.80,511.42 L112.00,513.27 L113.50,515.48 L115.00,514.11 L116.50,515.00 L117.80,511.24 L118.80,505.26 L120.00,498.38 L121.00,505.26 L122.30,513.25 L123.80,509.08 L125.00,511.80 L126.50,509.34 L127.80,501.35 L128.80,497.94 L130.10,494.73 L131.20,497.89 L132.20,504.94 L133.70,506.62 L135.00,508.41 L135.90,510.10 L136.80,511.74 L137.65,513.47 L138.50,514.33 L140.00,515.96 L141.20,516.83 L142.50,516.87 L143.50,515.91 L144.50,513.65 L145.50,513.88 L146.50,516.58 L148.00,515.32 L149.20,510.87 L149.90,510.92 L150.60,513.20 L151.20,516.55 L152.50,516.85 L154.00,516.89 L154.60,516.51 L156.00,511.52 L157.30,509.14 L158.30,507.18 L159.30,506.50 L160.40,502.37 L161.30,499.31 L162.40,507.62 L163.40,516.19 L165.00,517.07 L166.50,515.61 L167.40,515.58 L168.50,517.12 L170.10,516.65 L170.80,511.06 L171.40,508.85 L172.40,511.70 L173.20,509.76 L173.70,507.69 L174.60,511.75 L175.50,515.44 L176.50,514.91 L177.50,514.08 L179.00,514.02 L180.00,514.28 L181.00,514.32 L182.00,514.77 L183.00,512.92 L183.87,514.20 L184.73,513.36 L185.60,513.75 L187.00,514.93 L188.30,510.99 L189.60,515.53 L190.80,514.03 L191.60,513.36 L192.30,514.00 L192.30,518.00 Z" fill="#000"/>
<path d="M199.70,518.00 L199.70,516.28 L200.50,510.21 L201.50,504.57 L202.20,500.99 L203.00,507.54 L204.00,509.54 L205.00,508.18 L206.00,510.53 L207.00,508.76 L208.00,511.24 L209.00,507.17 L209.70,505.53 L210.50,510.38 L211.50,513.06 L212.50,513.82 L214.00,514.89 L214.90,516.00 L214.90,518.00 Z" fill="#000"/>
<path d="M218.20,518.00 L218.20,515.39 L219.10,513.98 L220.00,511.62 L221.00,510.48 L222.00,508.68 L223.00,504.04 L224.00,500.13 L225.50,489.41 L226.50,482.08 L227.40,476.21 L228.50,482.23 L229.50,489.07 L231.00,500.81 L232.00,505.03 L233.00,507.85 L234.00,509.92 L235.00,511.08 L236.00,511.74 L237.00,512.74 L238.00,512.98 L239.00,514.54 L240.30,516.00 L240.30,518.00 Z" fill="#000"/>
<line x1="103.60" y1="521.00" x2="191.20" y2="521.00" stroke="#6A6AB4" stroke-width="1.0" />
<rect x="103.60" y="519.60" width="1.60" height="3.20" fill="#1C1C80"/>
<rect x="108.70" y="518.80" width="2.70" height="4.80" fill="#1C1C80"/>
<rect x="132.00" y="518.80" width="1.40" height="4.80" fill="#1C1C80"/>
<rect x="147.00" y="518.80" width="1.40" height="4.80" fill="#1C1C80"/>
<rect x="181.20" y="519.40" width="10.00" height="3.60" fill="#1C1C80"/>
<text x="82.30" y="533.20" font-size="7.96" textLength="10.70" lengthAdjust="spacingAndGlyphs">IL6</text>
<text x="332.50" y="431.70" font-size="8.23" textLength="139.00" lengthAdjust="spacingAndGlyphs">NR4A1 ChIP in human CD34+ cells</text>
<text font-size="8.78" text-anchor="middle" textLength="35.00" lengthAdjust="spacingAndGlyphs" transform="translate(262.70,480.00) rotate(-90)">% of input</text>
<line x1="291.30" y1="436.90" x2="291.30" y2="523.40" stroke="#000" stroke-width="1.3" />
<line x1="290.80" y1="522.90" x2="511.30" y2="522.90" stroke="#000" stroke-width="1.3" />
<line x1="288.10" y1="522.90" x2="291.30" y2="522.90" stroke="#000" stroke-width="1.0" />
<text x="286.00" y="525.85" font-size="8.09" class="t" text-anchor="end" textLength="4.85" lengthAdjust="spacingAndGlyphs">0</text>
<line x1="288.10" y1="506.22" x2="291.30" y2="506.22" stroke="#000" stroke-width="1.0" />
<text x="286.00" y="509.17" font-size="8.09" class="t" text-anchor="end" textLength="15.50" lengthAdjust="spacingAndGlyphs">0.01</text>
<line x1="288.10" y1="489.54" x2="291.30" y2="489.54" stroke="#000" stroke-width="1.0" />
<text x="286.00" y="492.49" font-size="8.09" class="t" text-anchor="end" textLength="16.65" lengthAdjust="spacingAndGlyphs">0.02</text>
<line x1="288.10" y1="472.86" x2="291.30" y2="472.86" stroke="#000" stroke-width="1.0" />
<text x="286.00" y="475.81" font-size="8.09" class="t" text-anchor="end" textLength="16.65" lengthAdjust="spacingAndGlyphs">0.03</text>
<line x1="288.10" y1="456.18" x2="291.30" y2="456.18" stroke="#000" stroke-width="1.0" />
<text x="286.00" y="459.13" font-size="8.09" class="t" text-anchor="end" textLength="16.65" lengthAdjust="spacingAndGlyphs">0.04</text>
<line x1="288.10" y1="439.50" x2="291.30" y2="439.50" stroke="#000" stroke-width="1.0" />
<text x="286.00" y="442.45" font-size="8.09" class="t" text-anchor="end" textLength="16.65" lengthAdjust="spacingAndGlyphs">0.05</text>
<line x1="291.30" y1="522.90" x2="291.30" y2="525.90" stroke="#000" stroke-width="1.0" />
<line x1="345.70" y1="522.90" x2="345.70" y2="525.90" stroke="#000" stroke-width="1.0" />
<line x1="400.20" y1="522.90" x2="400.20" y2="525.90" stroke="#000" stroke-width="1.0" />
<line x1="454.70" y1="522.90" x2="454.70" y2="525.90" stroke="#000" stroke-width="1.0" />
<line x1="509.20" y1="522.90" x2="509.20" y2="525.90" stroke="#000" stroke-width="1.0" />
<rect x="307.50" y="488.80" width="22.50" height="34.10" fill="#A9002C"/>
<rect x="361.80" y="504.10" width="23.20" height="18.80" fill="#A9002C"/>
<rect x="416.10" y="464.30" width="23.60" height="58.60" fill="#A9002C"/>
<rect x="470.50" y="512.80" width="22.80" height="10.10" fill="#A9002C"/>
<line x1="318.80" y1="480.50" x2="318.80" y2="497.50" stroke="#000" stroke-width="1.1" />
<line x1="315.80" y1="480.50" x2="321.80" y2="480.50" stroke="#000" stroke-width="1.1" />
<line x1="315.80" y1="497.50" x2="321.80" y2="497.50" stroke="#000" stroke-width="1.1" />
<line x1="373.40" y1="502.00" x2="373.40" y2="507.20" stroke="#000" stroke-width="1.1" />
<line x1="370.40" y1="502.00" x2="376.40" y2="502.00" stroke="#000" stroke-width="1.1" />
<line x1="370.40" y1="507.20" x2="376.40" y2="507.20" stroke="#000" stroke-width="1.1" />
<line x1="427.90" y1="454.60" x2="427.90" y2="474.70" stroke="#000" stroke-width="1.1" />
<line x1="424.90" y1="454.60" x2="430.90" y2="454.60" stroke="#000" stroke-width="1.1" />
<line x1="424.90" y1="474.70" x2="430.90" y2="474.70" stroke="#000" stroke-width="1.1" />
<line x1="481.90" y1="512.30" x2="481.90" y2="513.30" stroke="#000" stroke-width="1.1" />
<line x1="478.90" y1="512.30" x2="484.90" y2="512.30" stroke="#000" stroke-width="1.1" />
<line x1="478.90" y1="513.30" x2="484.90" y2="513.30" stroke="#000" stroke-width="1.1" />
<text x="318.80" y="479.50" font-size="7.5" text-anchor="middle">*</text>
<text x="373.40" y="501.10" font-size="7.5" text-anchor="middle">*</text>
<text x="427.90" y="454.40" font-size="7.5" text-anchor="middle">*</text>
<text x="310.00" y="536.20" font-size="8.23" textLength="17.00" lengthAdjust="spacingAndGlyphs">TNF</text>
<text x="368.40" y="536.20" font-size="8.23" textLength="10.40" lengthAdjust="spacingAndGlyphs">IL6</text>
<text x="422.40" y="536.20" font-size="8.23" textLength="13.50" lengthAdjust="spacingAndGlyphs">IL1B</text>
<text x="456.00" y="536.20" font-size="8.23" textLength="52.60" lengthAdjust="spacingAndGlyphs">Untranscribed</text>
<text x="34.20" y="569.90" font-size="7.41" text-anchor="end" textLength="8.60" lengthAdjust="spacingAndGlyphs">86</text>
<text x="59.50" y="578.95" font-size="7.54" textLength="56.00" lengthAdjust="spacingAndGlyphs">+24Kb enhancer</text>
<text x="210.00" y="583.70" font-size="7.41" textLength="26.00" lengthAdjust="spacingAndGlyphs">NR4A1</text>
<text x="34.20" y="615.50" font-size="7.41" text-anchor="end" textLength="3.40" lengthAdjust="spacingAndGlyphs">1</text>
<text x="34.20" y="623.55" font-size="7.54" text-anchor="end" textLength="16.10" lengthAdjust="spacingAndGlyphs">49.9</text>
<text x="213.50" y="624.70" font-size="7.41" textLength="21.10" lengthAdjust="spacingAndGlyphs">NF-κB</text>
<text x="33.80" y="662.70" font-size="7.41" text-anchor="end" textLength="3.80" lengthAdjust="spacingAndGlyphs">0</text>
<line x1="39.00" y1="610.70" x2="244.20" y2="610.70" stroke="#1a1a1a" stroke-width="1.2" stroke-dasharray="2.6 2.2"/>
<line x1="39.50" y1="610.70" x2="53.50" y2="610.70" stroke="#000" stroke-width="1.4" />
<path d="M43.80,611.30 L43.80,611.00 L45.00,606.50 L45.40,594.00 L45.90,565.50 L46.40,594.00 L46.90,606.50 L48.20,611.00 L48.20,611.30 Z" fill="#000"/>
<path d="M59.78,611.30 L59.78,611.30 L61.10,610.13 L61.70,609.50 L62.30,610.13 L63.62,611.30 L63.62,611.30 Z" fill="#000"/>
<path d="M73.40,611.30 L73.40,611.30 L74.50,610.45 L75.00,610.00 L75.50,610.45 L76.60,611.30 L76.60,611.30 Z" fill="#000"/>
<path d="M83.40,611.30 L83.40,611.30 L84.50,610.32 L85.00,609.80 L85.50,610.32 L86.60,611.30 L86.60,611.30 Z" fill="#000"/>
<path d="M90.72,611.30 L90.72,611.30 L91.60,610.32 L92.00,609.80 L92.40,610.32 L93.28,611.30 L93.28,611.30 Z" fill="#000"/>
<path d="M99.40,611.30 L99.40,611.30 L100.50,610.13 L101.00,609.50 L101.50,610.13 L102.60,611.30 L102.60,611.30 Z" fill="#000"/>
<path d="M106.88,611.30 L106.88,611.30 L108.20,602.00 L108.80,597.00 L109.40,602.00 L110.72,611.30 L110.72,611.30 Z" fill="#000"/>
<path d="M110.40,611.30 L110.40,611.30 L111.50,610.32 L112.00,609.80 L112.50,610.32 L113.60,611.30 L113.60,611.30 Z" fill="#000"/>
<path d="M116.08,611.30 L116.08,611.30 L117.40,610.13 L118.00,609.50 L118.60,610.13 L119.92,611.30 L119.92,611.30 Z" fill="#000"/>
<path d="M123.40,611.30 L123.40,611.30 L124.50,610.32 L125.00,609.80 L125.50,610.32 L126.60,611.30 L126.60,611.30 Z" fill="#000"/>
<path d="M129.40,611.30 L129.40,611.30 L130.50,609.15 L131.00,608.00 L131.50,609.15 L132.60,611.30 L132.60,611.30 Z" fill="#000"/>
<path d="M131.40,611.30 L131.40,611.30 L133.05,605.06 L133.80,601.70 L134.55,605.06 L136.20,611.30 L136.20,611.30 Z" fill="#000"/>
<path d="M135.08,611.30 L135.08,611.30 L136.40,609.15 L137.00,608.00 L137.60,609.15 L138.92,611.30 L138.92,611.30 Z" fill="#000"/>
<path d="M144.08,611.30 L144.08,611.30 L145.40,610.13 L146.00,609.50 L146.60,610.13 L147.92,611.30 L147.92,611.30 Z" fill="#000"/>
<path d="M150.40,611.30 L150.40,611.30 L151.50,610.13 L152.00,609.50 L152.50,610.13 L153.60,611.30 L153.60,611.30 Z" fill="#000"/>
<path d="M156.40,611.30 L156.40,611.30 L157.50,610.20 L158.00,609.60 L158.50,610.20 L159.60,611.30 L159.60,611.30 Z" fill="#000"/>
<path d="M163.40,611.30 L163.40,611.30 L164.50,610.20 L165.00,609.60 L165.50,610.20 L166.60,611.30 L166.60,611.30 Z" fill="#000"/>
<path d="M169.78,611.30 L169.78,611.30 L171.10,605.71 L171.70,602.70 L172.30,605.71 L173.62,611.30 L173.62,611.30 Z" fill="#000"/>
<path d="M173.40,611.30 L173.40,611.30 L174.50,609.48 L175.00,608.50 L175.50,609.48 L176.60,611.30 L176.60,611.30 Z" fill="#000"/>
<path d="M181.40,611.30 L181.40,611.30 L182.50,610.13 L183.00,609.50 L183.50,610.13 L184.60,611.30 L184.60,611.30 Z" fill="#000"/>
<path d="M187.00,611.30 L187.00,611.30 L188.65,609.48 L189.40,608.50 L190.15,609.48 L191.80,611.30 L191.80,611.30 Z" fill="#000"/>
<path d="M194.40,611.30 L194.40,611.30 L195.50,610.13 L196.00,609.50 L196.50,610.13 L197.60,611.30 L197.60,611.30 Z" fill="#000"/>
<path d="M201.40,611.30 L201.40,611.30 L203.05,606.95 L203.80,604.60 L204.55,606.95 L206.20,611.30 L206.20,611.30 Z" fill="#000"/>
<path d="M205.40,611.30 L205.40,611.30 L206.50,609.48 L207.00,608.50 L207.50,609.48 L208.60,611.30 L208.60,611.30 Z" fill="#000"/>
<path d="M210.40,611.30 L210.40,611.30 L211.50,610.13 L212.00,609.50 L212.50,610.13 L213.60,611.30 L213.60,611.30 Z" fill="#000"/>
<path d="M215.40,611.30 L215.40,611.30 L216.50,609.15 L217.00,608.00 L217.50,609.15 L218.60,611.30 L218.60,611.30 Z" fill="#000"/>
<path d="M218.08,611.30 L218.08,611.30 L219.40,607.20 L220.00,605.00 L220.60,607.20 L221.92,611.30 L221.92,611.30 Z" fill="#000"/>
<path d="M220.78,611.30 L220.78,611.30 L222.10,605.45 L222.70,602.30 L223.30,605.45 L224.62,611.30 L224.62,611.30 Z" fill="#000"/>
<path d="M223.08,611.30 L223.08,611.30 L224.40,607.86 L225.00,606.00 L225.60,607.86 L226.92,611.30 L226.92,611.30 Z" fill="#000"/>
<path d="M226.40,611.30 L226.40,611.30 L227.50,609.48 L228.00,608.50 L228.50,609.48 L229.60,611.30 L229.60,611.30 Z" fill="#000"/>
<path d="M234.10,611.30 L234.10,611.30 L235.75,609.15 L236.50,608.00 L237.25,609.15 L238.90,611.30 L238.90,611.30 Z" fill="#000"/>
<path d="M239.40,611.30 L239.40,611.30 L240.50,610.13 L241.00,609.50 L241.50,610.13 L242.60,611.30 L242.60,611.30 Z" fill="#000"/>
<path d="M39.00,658.90 L39.00,655.91 L40.00,655.62 L41.00,655.49 L42.00,655.14 L43.00,655.62 L44.00,655.19 L45.00,657.33 L46.00,656.28 L47.00,655.14 L48.00,655.84 L49.00,655.24 L50.00,657.13 L51.00,656.27 L52.00,656.81 L53.00,656.09 L54.00,656.02 L55.00,657.37 L56.00,656.88 L57.00,656.73 L58.00,655.20 L59.00,655.56 L60.00,657.02 L61.00,655.49 L62.00,657.07 L63.00,655.92 L64.00,657.10 L65.00,657.40 L66.00,655.31 L67.00,656.90 L68.00,656.88 L69.00,655.04 L70.00,655.31 L71.00,656.71 L72.00,655.09 L73.00,656.11 L74.00,655.77 L75.00,656.91 L76.00,655.14 L77.00,655.74 L78.00,655.08 L79.00,655.26 L80.00,656.68 L81.00,656.53 L82.00,657.00 L83.00,657.05 L84.00,657.24 L85.00,656.68 L86.00,655.95 L87.00,657.39 L88.00,655.77 L89.00,656.59 L90.00,656.66 L91.00,655.44 L92.00,656.25 L93.00,656.64 L94.00,656.25 L95.00,655.71 L96.00,657.26 L97.00,655.06 L98.00,657.35 L99.00,655.60 L100.00,655.37 L101.00,657.36 L102.00,655.51 L103.00,656.52 L104.00,656.01 L105.00,657.38 L106.00,657.29 L107.00,656.97 L108.00,655.11 L109.00,656.93 L110.00,655.59 L111.00,655.17 L112.00,655.14 L113.00,656.57 L114.00,656.55 L115.00,656.14 L116.00,655.54 L117.00,657.14 L118.00,655.60 L119.00,655.49 L120.00,655.34 L121.00,657.31 L122.00,655.13 L123.00,657.18 L124.00,656.58 L125.00,655.93 L126.00,655.20 L127.00,656.58 L128.00,655.18 L129.00,656.09 L130.00,656.65 L131.00,656.64 L132.00,656.97 L133.00,657.21 L134.00,657.04 L135.00,655.75 L136.00,655.01 L137.00,657.01 L138.00,657.28 L139.00,655.03 L140.00,656.12 L141.00,656.43 L142.00,656.83 L143.00,655.97 L144.00,655.42 L145.00,656.31 L146.00,656.39 L147.00,657.27 L148.00,655.20 L149.00,657.32 L150.00,656.22 L151.00,655.39 L152.00,657.09 L153.00,655.64 L154.00,655.12 L155.00,655.89 L156.00,655.51 L157.00,657.14 L158.00,656.36 L159.00,657.04 L160.00,655.37 L161.00,656.69 L162.00,656.31 L163.00,655.00 L164.00,655.35 L165.00,655.06 L166.00,656.31 L167.00,656.23 L168.00,655.65 L169.00,656.25 L170.00,656.70 L171.00,656.43 L172.00,657.05 L173.00,656.50 L174.00,655.03 L175.00,655.10 L176.00,655.90 L177.00,656.20 L178.00,656.59 L179.00,657.19 L180.00,656.75 L181.00,655.52 L182.00,655.32 L183.00,656.53 L184.00,655.51 L185.00,655.54 L186.00,655.73 L187.00,655.81 L188.00,655.58 L189.00,656.53 L190.00,655.71 L191.00,656.73 L192.00,656.23 L193.00,655.55 L194.00,655.74 L195.00,656.69 L196.00,655.13 L197.00,655.84 L198.00,656.01 L199.00,657.37 L200.00,656.09 L201.00,656.80 L202.00,655.79 L203.00,656.29 L204.00,655.44 L205.00,655.85 L206.00,655.49 L207.00,656.57 L208.00,655.85 L209.00,655.63 L210.00,655.41 L211.00,656.56 L212.00,655.38 L213.00,655.31 L214.00,655.75 L215.00,655.06 L216.00,655.10 L217.00,656.16 L218.00,656.13 L219.00,657.00 L220.00,655.39 L221.00,655.15 L222.00,656.25 L223.00,655.74 L224.00,655.67 L225.00,655.65 L226.00,656.99 L227.00,655.53 L228.00,656.01 L229.00,655.80 L230.00,656.39 L231.00,655.90 L232.00,655.54 L233.00,655.87 L234.00,655.67 L235.00,657.33 L236.00,657.02 L237.00,656.34 L238.00,655.84 L239.00,656.87 L240.00,655.75 L241.00,655.89 L242.00,657.30 L243.00,656.27 L244.00,656.86 L244.00,658.90 Z" fill="#000"/>
<path d="M42.00,658.90 L42.00,657.00 L44.00,655.50 L45.00,645.00 L45.80,628.00 L46.40,615.80 L47.00,630.00 L47.60,646.00 L48.40,655.50 L49.50,654.50 L50.20,650.00 L51.10,642.00 L51.90,650.00 L52.80,656.50 L55.00,657.00 L55.00,658.90 Z" fill="#000"/>
<path d="M58.70,658.90 L58.70,658.90 L60.70,656.64 L61.70,654.80 L62.70,656.64 L64.70,658.90 L64.70,658.90 Z" fill="#000"/>
<path d="M79.00,658.90 L79.00,658.90 L81.00,657.03 L82.00,655.50 L83.00,657.03 L85.00,658.90 L85.00,658.90 Z" fill="#000"/>
<path d="M96.75,658.90 L96.75,658.90 L98.25,656.48 L99.00,654.50 L99.75,656.48 L101.25,658.90 L101.25,658.90 Z" fill="#000"/>
<path d="M99.70,658.90 L99.70,658.90 L100.90,655.38 L101.50,652.50 L102.10,655.38 L103.30,658.90 L103.30,658.90 Z" fill="#000"/>
<path d="M102.20,658.90 L102.20,658.90 L103.40,655.93 L104.00,653.50 L104.60,655.93 L105.80,658.90 L105.80,658.90 Z" fill="#000"/>
<path d="M104.50,658.90 L104.50,658.90 L105.50,652.63 L106.00,647.50 L106.50,652.63 L107.50,658.90 L107.50,658.90 Z" fill="#000"/>
<path d="M106.20,658.90 L106.20,658.90 L107.40,655.38 L108.00,652.50 L108.60,655.38 L109.80,658.90 L109.80,658.90 Z" fill="#000"/>
<path d="M106.75,658.90 L106.75,658.90 L108.25,656.21 L109.00,654.00 L109.75,656.21 L111.25,658.90 L111.25,658.90 Z" fill="#000"/>
<path d="M119.00,658.90 L119.00,658.90 L121.00,657.03 L122.00,655.50 L123.00,657.03 L125.00,658.90 L125.00,658.90 Z" fill="#000"/>
<path d="M137.00,658.90 L137.00,658.90 L139.00,657.03 L140.00,655.50 L141.00,657.03 L143.00,658.90 L143.00,658.90 Z" fill="#000"/>
<path d="M149.00,658.90 L149.00,658.90 L151.00,655.93 L152.00,653.50 L153.00,655.93 L155.00,658.90 L155.00,658.90 Z" fill="#000"/>
<path d="M157.00,658.90 L157.00,658.90 L159.00,657.19 L160.00,655.80 L161.00,657.19 L163.00,658.90 L163.00,658.90 Z" fill="#000"/>
<path d="M167.75,658.90 L167.75,658.90 L169.25,656.32 L170.00,654.20 L170.75,656.32 L172.25,658.90 L172.25,658.90 Z" fill="#000"/>
<path d="M172.00,658.90 L172.00,658.90 L174.00,656.48 L175.00,654.50 L176.00,656.48 L178.00,658.90 L178.00,658.90 Z" fill="#000"/>
<path d="M182.00,658.90 L182.00,658.90 L184.00,657.03 L185.00,655.50 L186.00,657.03 L188.00,658.90 L188.00,658.90 Z" fill="#000"/>
<path d="M192.00,658.90 L192.00,658.90 L194.00,656.75 L195.00,655.00 L196.00,656.75 L198.00,658.90 L198.00,658.90 Z" fill="#000"/>
<path d="M200.80,658.90 L200.80,658.90 L202.80,656.48 L203.80,654.50 L204.80,656.48 L206.80,658.90 L206.80,658.90 Z" fill="#000"/>
<path d="M207.00,658.90 L207.00,658.90 L209.00,656.75 L210.00,655.00 L211.00,656.75 L213.00,658.90 L213.00,658.90 Z" fill="#000"/>
<path d="M215.00,658.90 L215.00,658.90 L217.00,657.03 L218.00,655.50 L219.00,657.03 L221.00,658.90 L221.00,658.90 Z" fill="#000"/>
<path d="M223.00,658.90 L223.00,658.90 L225.00,656.75 L226.00,655.00 L227.00,656.75 L229.00,658.90 L229.00,658.90 Z" fill="#000"/>
<path d="M232.20,658.90 L232.20,658.90 L233.40,649.55 L234.00,641.90 L234.60,649.55 L235.80,658.90 L235.80,658.90 Z" fill="#000"/>
<path d="M234.70,658.90 L234.70,658.90 L235.90,654.55 L236.50,651.00 L237.10,654.55 L238.30,658.90 L238.30,658.90 Z" fill="#000"/>
<path d="M237.75,658.90 L237.75,658.90 L239.25,657.03 L240.00,655.50 L240.75,657.03 L242.25,658.90 L242.25,658.90 Z" fill="#000"/>
<line x1="167.30" y1="662.70" x2="204.80" y2="662.70" stroke="#6A6AB4" stroke-width="0.9" />
<rect x="167.60" y="659.90" width="1.20" height="5.70" fill="#1C1C80"/>
<rect x="177.30" y="659.90" width="1.20" height="5.70" fill="#1C1C80"/>
<rect x="181.90" y="659.90" width="1.70" height="5.70" fill="#1C1C80"/>
<rect x="195.60" y="659.90" width="1.00" height="5.70" fill="#1C1C80"/>
<rect x="200.50" y="659.90" width="1.00" height="5.70" fill="#1C1C80"/>
<rect x="203.40" y="659.90" width="1.00" height="5.70" fill="#1C1C80"/>
<text x="132.90" y="673.70" font-size="7.96" textLength="15.40" lengthAdjust="spacingAndGlyphs">IL1B</text>
<rect x="37.4" y="560.4" width="17.7" height="103.4" fill="none" stroke="#44448A" stroke-width="1.5"/>
<line x1="55.10" y1="569.00" x2="256.00" y2="569.00" stroke="#383884" stroke-width="1.4" />
<path d="M253.2,566.0 L260.8,569.0 L253.2,572.0 Z" fill="#23236F"/>
<text x="290.50" y="569.70" font-size="7.41" text-anchor="end" textLength="8.50" lengthAdjust="spacingAndGlyphs">86</text>
<text x="305.00" y="584.00" font-size="7.41" textLength="23.00" lengthAdjust="spacingAndGlyphs">NR4A1</text>
<text x="290.00" y="614.30" font-size="7.41" text-anchor="end" textLength="4.00" lengthAdjust="spacingAndGlyphs">1</text>
<text x="290.80" y="623.30" font-size="7.41" text-anchor="end" textLength="15.40" lengthAdjust="spacingAndGlyphs">49.9</text>
<text x="304.20" y="623.70" font-size="7.41" textLength="21.60" lengthAdjust="spacingAndGlyphs">NF-κB</text>
<text x="290.20" y="663.10" font-size="7.41" text-anchor="end" textLength="3.90" lengthAdjust="spacingAndGlyphs">0</text>
<line x1="297.50" y1="611.20" x2="302.50" y2="611.20" stroke="#000" stroke-width="1.4" />
<line x1="304.50" y1="611.20" x2="332.00" y2="611.20" stroke="#000" stroke-width="1.4" />
<line x1="334.00" y1="611.20" x2="349.00" y2="611.20" stroke="#000" stroke-width="1.4" />
<line x1="351.00" y1="611.20" x2="398.00" y2="611.20" stroke="#000" stroke-width="1.4" />
<line x1="400.50" y1="611.20" x2="413.00" y2="611.20" stroke="#000" stroke-width="1.4" />
<line x1="415.00" y1="611.20" x2="433.50" y2="611.20" stroke="#000" stroke-width="1.4" />
<line x1="437.30" y1="611.20" x2="447.00" y2="611.20" stroke="#000" stroke-width="1.4" />
<line x1="447.00" y1="611.20" x2="461.00" y2="611.20" stroke="#999" stroke-width="1.0" stroke-dasharray="2 2"/>
<line x1="461.00" y1="611.20" x2="474.00" y2="611.20" stroke="#000" stroke-width="1.4" />
<path d="M315.50,611.40 L315.50,611.40 L317.30,609.30 L319.70,609.30 L321.50,611.40 L321.50,611.40 Z" fill="#000"/>
<path d="M327.00,611.40 L327.00,611.40 L328.80,610.20 L331.20,610.20 L333.00,611.40 L333.00,611.40 Z" fill="#000"/>
<path d="M440.50,611.40 L440.50,611.40 L442.30,609.50 L444.70,609.50 L446.50,611.40 L446.50,611.40 Z" fill="#000"/>
<path d="M465.50,611.40 L465.50,611.40 L467.30,609.50 L469.70,609.50 L471.50,611.40 L471.50,611.40 Z" fill="#000"/>
<path d="M360.10,611.90H362.30V609.00H360.10ZM362.30,611.90H364.40V604.20H362.30ZM364.40,611.90H367.10V597.00H364.40ZM367.10,611.90H369.20V589.80H367.10ZM369.20,611.90H371.20V579.70H369.20ZM371.20,611.90H373.50V567.70H371.20ZM373.50,611.90H376.00V565.80H373.50ZM376.00,611.90H378.00V567.70H376.00ZM378.00,611.90H379.30V570.60H378.00ZM379.30,611.90H381.50V581.20H379.30ZM381.50,611.90H383.40V591.70H381.50ZM383.40,611.90H385.50V597.50H383.40ZM385.50,611.90H388.50V604.70H385.50ZM388.50,611.90H391.00V608.60H388.50Z" fill="#000"/>
<path d="M294.00,658.70 L294.00,657.43 L294.86,657.81 L295.71,657.74 L296.57,657.19 L297.43,657.31 L298.29,656.99 L299.14,657.19 L300.00,657.45 L300.86,657.57 L301.71,657.30 L302.57,657.23 L303.43,657.19 L304.29,657.58 L305.14,657.87 L306.00,657.32 L306.86,657.73 L307.71,657.06 L308.57,657.10 L309.43,657.04 L310.29,657.32 L311.14,656.94 L312.00,656.88 L312.86,657.15 L313.71,656.80 L314.57,657.36 L315.43,656.93 L316.29,657.29 L317.14,657.15 L318.00,657.16 L318.80,657.30 L319.60,657.11 L320.40,656.94 L321.20,656.85 L322.00,656.82 L322.86,656.48 L323.71,656.47 L324.57,656.78 L325.43,656.74 L326.29,656.61 L327.14,656.84 L328.00,656.59 L328.90,656.63 L329.80,655.91 L330.70,656.17 L331.60,656.06 L332.50,655.96 L333.38,655.79 L334.25,656.14 L335.12,657.00 L336.00,656.77 L336.86,657.45 L337.71,657.40 L338.57,656.84 L339.43,656.96 L340.29,657.39 L341.14,657.07 L342.00,656.98 L342.86,657.60 L343.71,657.32 L344.57,657.65 L345.43,657.18 L346.29,657.44 L347.14,657.70 L348.00,657.23 L348.88,657.35 L349.75,657.69 L350.62,657.84 L351.50,657.86 L352.38,657.18 L353.25,657.45 L354.12,657.63 L355.00,657.40 L355.89,657.56 L356.77,657.18 L357.66,657.10 L358.55,657.14 L359.44,657.10 L360.33,657.51 L361.21,657.50 L362.10,657.55 L363.07,656.37 L364.03,655.55 L365.00,654.72 L366.00,654.09 L367.00,653.01 L368.00,651.47 L369.00,649.04 L370.00,644.19 L371.00,640.63 L372.00,634.94 L373.00,630.42 L374.00,625.21 L375.00,620.94 L376.00,618.43 L377.00,615.67 L378.05,614.89 L379.10,612.70 L380.05,615.67 L381.00,617.62 L382.00,620.45 L383.00,624.92 L384.00,630.88 L385.00,635.86 L386.30,642.60 L387.15,645.08 L388.00,648.01 L388.90,649.28 L389.80,652.09 L390.70,653.80 L391.57,654.70 L392.43,655.83 L393.30,656.61 L394.20,656.18 L395.10,656.12 L396.00,655.80 L396.80,656.11 L397.60,655.83 L398.40,655.22 L399.20,655.70 L400.00,655.42 L400.80,655.57 L401.60,655.73 L402.40,655.48 L403.20,656.03 L404.00,656.14 L404.80,656.25 L405.60,656.59 L406.40,656.86 L407.20,656.84 L408.00,657.38 L408.80,656.98 L409.60,657.32 L410.40,657.54 L411.20,657.31 L412.00,657.69 L412.97,657.64 L413.93,657.36 L414.90,656.78 L415.95,656.39 L417.00,655.15 L418.00,654.01 L419.00,653.49 L420.00,652.57 L420.90,652.03 L421.80,651.38 L422.70,651.55 L424.00,648.67 L425.00,647.69 L426.00,646.72 L427.00,645.56 L428.00,642.88 L429.20,642.65 L430.40,641.82 L431.45,641.82 L432.50,642.67 L433.65,644.13 L434.80,646.23 L435.90,648.66 L437.00,650.56 L438.00,651.57 L439.00,653.09 L440.00,653.55 L441.00,654.34 L442.00,655.60 L443.00,656.06 L443.83,656.36 L444.66,655.98 L445.49,656.06 L446.31,655.34 L447.14,655.73 L447.97,655.80 L448.80,655.09 L449.87,656.44 L450.93,656.35 L452.00,657.18 L452.81,657.01 L453.62,657.35 L454.44,657.51 L455.25,657.16 L456.06,657.92 L456.88,657.59 L457.69,657.75 L458.50,657.87 L459.40,657.50 L460.30,657.23 L461.20,657.32 L462.10,657.05 L463.00,656.62 L463.80,656.90 L464.60,656.47 L465.40,656.15 L466.20,656.26 L467.00,656.01 L467.80,656.31 L468.60,657.01 L469.40,656.91 L470.20,657.52 L471.00,657.59 L471.83,657.12 L472.67,657.91 L473.50,657.94 L474.33,657.34 L475.17,658.04 L476.00,657.75 L476.83,657.72 L477.67,658.02 L478.50,657.40 L479.33,657.55 L480.17,657.80 L481.00,657.57 L481.88,657.42 L482.76,657.85 L483.64,657.76 L484.52,657.64 L485.40,657.60 L485.40,658.70 Z" fill="#000"/>
<rect x="0.75" y="0.6" width="518.6" height="679.5" fill="none" stroke="#000" stroke-width="1.5"/>
</svg>
</body></html>
